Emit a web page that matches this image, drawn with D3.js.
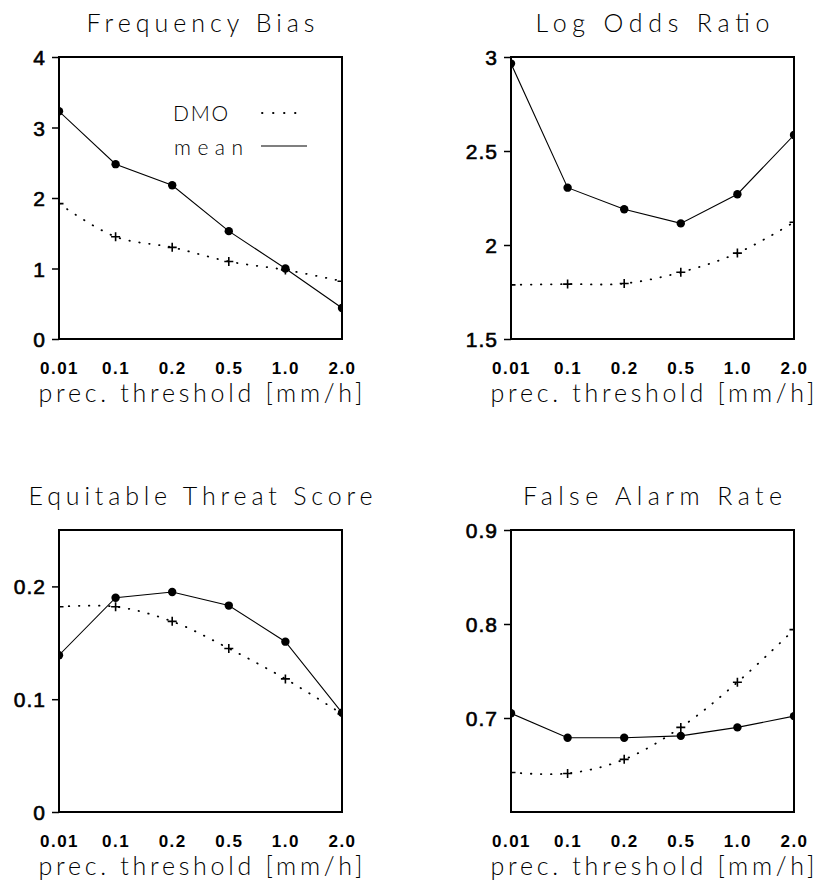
<!DOCTYPE html>
<html>
<head>
<meta charset="utf-8">
<script src="https://cdn.jsdelivr.net/npm/d3@7"></script>
<style>
  body { margin: 0; background: #fff; }
  .title, .xtitle, .legend text { font-family: "Lato", "DejaVu Sans", sans-serif; font-weight: 300; fill: #000; }
  .ytick text { font-family: "Liberation Sans", Arial, sans-serif; font-size: 21px; fill: #000; stroke: #000; stroke-width: 0.6px; letter-spacing: 1px; }
  .xtick text { font-family: "Liberation Sans", Arial, sans-serif; font-size: 17px; font-weight: bold; fill: #000; letter-spacing: 1.5px; }
</style>
</head>
<body>
<div id="plot"></div>
<script>
// thresholds on the x axis
const thresholds = ["0.01", "0.1", "0.2", "0.5", "1.0", "2.0"];

// Frequency Bias
const biasMean = [3.23, 2.48, 2.18, 1.53, 1.00, 0.44];
const biasDmo  = [1.92, 1.45, 1.30, 1.10, 0.98, 0.82];

// Log Odds Ratio
const lorMean = [2.965, 2.305, 2.19, 2.115, 2.27, 2.585];
const lorDmo  = [1.788, 1.792, 1.795, 1.855, 1.957, 2.121];

// Equitable Threat Score
const etsMean = [0.139, 0.190, 0.195, 0.183, 0.151, 0.088];
const etsDmo  = [0.182, 0.182, 0.169, 0.145, 0.118, 0.087];

// False Alarm Rate
const farMean = [0.705, 0.679, 0.679, 0.681, 0.690, 0.702];
const farDmo  = [0.642, 0.641, 0.656, 0.690, 0.738, 0.794];

const panels = [
  { title: "Frequency Bias", titleW: 228, mean: biasMean, dmo: biasDmo, domain: [0, 4], ticks: [0, 1, 2, 3, 4], left: 59, top: 57, legend: true },
  { title: "Log Odds Ratio", titleW: 234, mean: lorMean, dmo: lorDmo, domain: [1.5, 3], ticks: [1.5, 2, 2.5, 3], left: 511, top: 57 },
  { title: "Equitable Threat Score", titleW: 344, mean: etsMean, dmo: etsDmo, domain: [0, 0.25], ticks: [0, 0.1, 0.2], left: 59, top: 530 },
  { title: "False Alarm Rate", titleW: 259, mean: farMean, dmo: farDmo, domain: [0.6, 0.9], ticks: [0.7, 0.8, 0.9], left: 511, top: 530 }
];

const width = 283, height = 282;

const svg = d3.select("#plot")
  .append("svg")
  .attr("width", 817)
  .attr("height", 884);

svg.append("rect").attr("width", 817).attr("height", 884).attr("fill", "#fff");

const x = d3.scalePoint()
  .domain(thresholds)
  .range([0, width]);

panels.forEach((p, i) => {
  const g = svg.append("g")
    .attr("transform", `translate(${p.left},${p.top})`);

  const y = d3.scaleLinear()
    .domain(p.domain)
    .range([height, 0]);

  // clip so the edge markers are cut by the frame
  g.append("clipPath")
    .attr("id", "clip" + i)
    .append("rect")
    .attr("width", width)
    .attr("height", height);

  const plot = g.append("g").attr("clip-path", `url(#clip${i})`);

  const dmoLine = d3.line()
    .x((d, j) => x(thresholds[j]))
    .y(d => y(d))
    .curve(d3.curveCatmullRom);

  const meanLine = d3.line()
    .x((d, j) => x(thresholds[j]))
    .y(d => y(d));

  plot.append("path")
    .datum(p.dmo)
    .attr("fill", "none")
    .attr("stroke", "#000")
    .attr("stroke-width", 1.8)
    .attr("stroke-linecap", "round")
    .attr("stroke-dasharray", "0.5,9.5")
    .attr("d", dmoLine);

  plot.append("path")
    .datum(p.mean)
    .attr("fill", "none")
    .attr("stroke", "#000")
    .attr("stroke-width", 1.1)
    .attr("d", meanLine);

  plot.selectAll(".dot")
    .data(p.mean)
    .enter().append("circle")
    .attr("class", "dot")
    .attr("cx", (d, j) => x(thresholds[j]))
    .attr("cy", d => y(d))
    .attr("r", 4.2)
    .attr("fill", "#000");

  plot.selectAll(".plus")
    .data(p.dmo)
    .enter().append("path")
    .attr("class", "plus")
    .attr("transform", (d, j) => `translate(${x(thresholds[j])},${y(d)})`)
    .attr("d", "M-4.5,0H4.5M0,-4.5V4.5")
    .attr("stroke", "#000")
    .attr("stroke-width", 1.6);

  // frame
  g.append("rect")
    .attr("width", width)
    .attr("height", height)
    .attr("fill", "none")
    .attr("stroke", "#000")
    .attr("stroke-width", 2);

  // y axis
  const ya = g.append("g")
    .attr("class", "ytick")
    .call(d3.axisLeft(y).tickValues(p.ticks).tickSize(7).tickPadding(6).tickFormat(d => String(d)));
  ya.select(".domain").remove();
  ya.selectAll("line").attr("stroke", "#000").attr("stroke-width", 1.5);
  ya.selectAll("text").attr("dy", "0.36em");

  // x axis
  const xa = g.append("g")
    .attr("class", "xtick")
    .attr("transform", `translate(0,${height})`)
    .call(d3.axisBottom(x).tickSize(0));
  xa.select(".domain").remove();
  xa.selectAll("text").attr("y", 35).attr("dy", 0);

  // titles
  g.append("text")
    .attr("class", "title")
    .attr("x", width / 2)
    .attr("y", -25)
    .attr("text-anchor", "middle")
    .attr("font-size", 25)
    .attr("textLength", p.titleW)
    .attr("lengthAdjust", "spacing")
    .text(p.title);

  g.append("text")
    .attr("class", "xtitle")
    .attr("x", width / 2)
    .attr("y", height + 63)
    .attr("text-anchor", "middle")
    .attr("font-size", 25)
    .attr("textLength", 324)
    .attr("lengthAdjust", "spacing")
    .text("prec. threshold [mm/h]");

  if (p.legend) {
    const lg = g.append("g").attr("class", "legend");
    lg.append("text").attr("x", 114).attr("y", 64).attr("font-size", 21)
      .attr("textLength", 55).attr("lengthAdjust", "spacing").text("DMO");
    lg.append("text").attr("x", 115).attr("y", 98).attr("font-size", 21)
      .attr("textLength", 69).attr("lengthAdjust", "spacing").text("mean");
    lg.append("line").attr("x1", 203).attr("x2", 237).attr("y1", 56).attr("y2", 56)
      .attr("stroke", "#000").attr("stroke-width", 1.8).attr("stroke-linecap", "round")
      .attr("stroke-dasharray", "0.5,10.5");
    lg.append("line").attr("x1", 202).attr("x2", 248).attr("y1", 89).attr("y2", 89)
      .attr("stroke", "#000").attr("stroke-width", 1.1);
  }
});
</script>
</body>
</html>
